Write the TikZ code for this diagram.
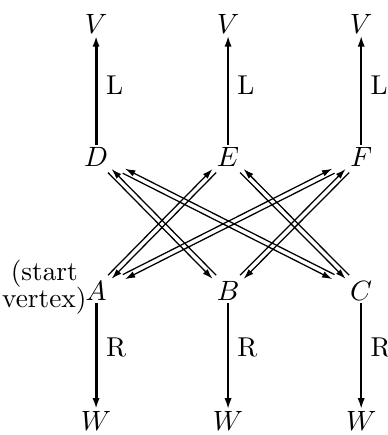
\documentclass[tikz,border=0pt]{standalone}
\usetikzlibrary{arrows.meta,calc}
\tikzset{
  vx/.style={inner sep=1pt, outer sep=0pt},
  up/.style={-{Latex[length=4.2pt,width=2.8pt]}, line width=0.7pt},
  cross/.style={-{Latex[length=4pt,width=2.6pt]}, line width=0.5pt},
}
\begin{document}
\begin{tikzpicture}[font=\fontsize{10.7}{11}\selectfont]
\useasboundingbox (0,0) rectangle (5.34,6.00);
\node[vx] (v1) at (1.325,5.672) {$V$};
\node[vx] (v2) at (3.146,5.672) {$V$};
\node[vx] (v3) at (4.982,5.672) {$V$};
\node[vx] (d) at (1.325,3.836) {$D$};
\node[vx] (e) at (3.146,3.836) {$E$};
\node[vx] (f) at (4.982,3.836) {$F$};
\node[vx] (a) at (1.325,1.987) {$A$};
\node[vx] (b) at (3.146,1.987) {$B$};
\node[vx] (c) at (4.982,1.987) {$C$};
\node[vx] (w1) at (1.325,0.193) {$W$};
\node[vx] (w2) at (3.146,0.193) {$W$};
\node[vx] (w3) at (4.982,0.193) {$W$};
\node[align=center, inner sep=0pt, anchor=east] (start) at ([xshift=1.5pt,yshift=1.5pt]a.west) {(start\\[-0.5pt]vertex)};
% L and R moves
\draw[up, line width=1.2pt] (d) -- node[right, pos=0.55] {L} (v1);
\draw[up] (e) -- node[right, pos=0.55] {L} (v2);
\draw[up] (f) -- node[right, pos=0.55] {L} (v3);
\draw[up, line width=1.2pt] (a) -- node[right, pos=0.42] {R} (w1);
\draw[up] (b) -- node[right, pos=0.42] {R} (w2);
\draw[up] (c) -- node[right, pos=0.42] {R} (w3);
% crossing moves, one arrow each way
\draw[cross] ($(a)!0.27cm!(e)!0.035cm!90:(e)$) -- ($(e)!0.27cm!(a)!0.035cm!-90:(a)$);
\draw[cross] ($(e)!0.27cm!(a)!0.035cm!90:(a)$) -- ($(a)!0.27cm!(e)!0.035cm!-90:(e)$);
\draw[cross] ($(a)!0.43cm!(f)!0.035cm!90:(f)$) -- ($(f)!0.43cm!(a)!0.035cm!-90:(a)$);
\draw[cross] ($(f)!0.43cm!(a)!0.035cm!90:(a)$) -- ($(a)!0.43cm!(f)!0.035cm!-90:(f)$);
\draw[cross] ($(b)!0.27cm!(f)!0.035cm!90:(f)$) -- ($(f)!0.27cm!(b)!0.035cm!-90:(b)$);
\draw[cross] ($(f)!0.27cm!(b)!0.035cm!90:(b)$) -- ($(b)!0.27cm!(f)!0.035cm!-90:(f)$);
\draw[cross] ($(b)!0.27cm!(d)!0.035cm!-90:(d)$) -- ($(d)!0.27cm!(b)!0.035cm!90:(b)$);
\draw[cross] ($(d)!0.27cm!(b)!0.035cm!-90:(b)$) -- ($(b)!0.27cm!(d)!0.035cm!90:(d)$);
\draw[cross] ($(c)!0.43cm!(d)!0.035cm!-90:(d)$) -- ($(d)!0.43cm!(c)!0.035cm!90:(c)$);
\draw[cross] ($(d)!0.43cm!(c)!0.035cm!-90:(c)$) -- ($(c)!0.43cm!(d)!0.035cm!90:(d)$);
\draw[cross] ($(c)!0.27cm!(e)!0.035cm!-90:(e)$) -- ($(e)!0.27cm!(c)!0.035cm!90:(c)$);
\draw[cross] ($(e)!0.27cm!(c)!0.035cm!-90:(c)$) -- ($(c)!0.27cm!(e)!0.035cm!90:(e)$);
\end{tikzpicture}
\end{document}
